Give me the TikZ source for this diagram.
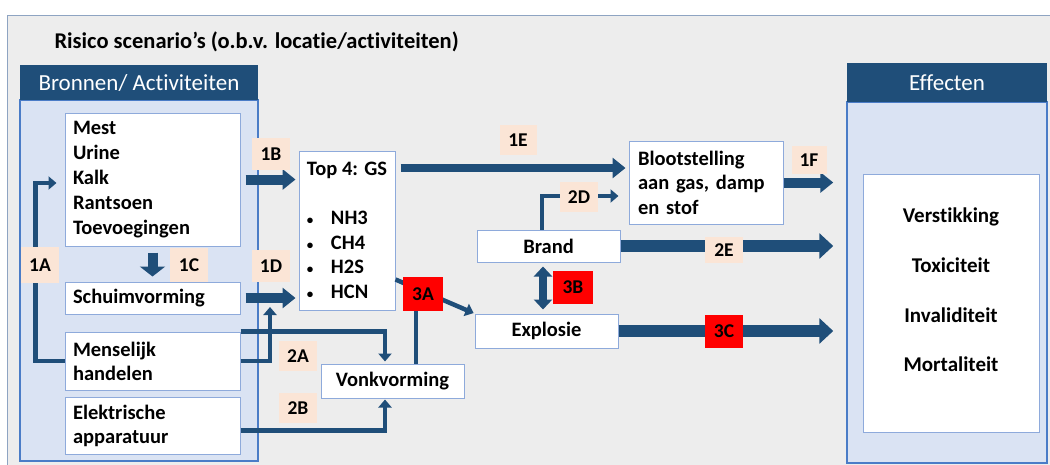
\documentclass[tikz,border=0pt]{standalone}
\usepackage{fontspec}
\setmainfont{Carlito}[Ligatures=NoCommon]
\usetikzlibrary{arrows.meta,calc}
\definecolor{bgc}{HTML}{EDEDED}
\definecolor{framec}{HTML}{8EA4C2}
\definecolor{hdr}{HTML}{1F4E79}
\definecolor{arrc}{HTML}{1F4E79}
\definecolor{panelf}{HTML}{DAE3F3}
\definecolor{panelb}{HTML}{4A7CC7}
\definecolor{boxc}{HTML}{8EAADB}
\definecolor{peach}{HTML}{FBE5D6}
\definecolor{redc}{HTML}{FF0000}
\newcommand{\gbul}{\makebox[24pt][l]{\fontsize{13}{13}\selectfont\textbullet}}
\begin{document}
\begin{tikzpicture}[x=1pt,y=-1pt,
  box/.style={draw=boxc, fill=white, line width=1pt, inner sep=0pt, font=\fontsize{20.5}{25}\selectfont\bfseries},
  lbox/.style={box, minimum width=175, text width=159, align=left},
  cbox/.style={box, minimum width=143, align=center},
  lab/.style={fill=peach, inner sep=0pt, minimum width=38, minimum height=32, font=\fontsize{19.5}{22}\selectfont\bfseries},
  rlab/.style={lab, fill=redc},
  panel/.style={draw=panelb, fill=panelf, line width=1.5pt, inner sep=0pt},
  header/.style={fill=hdr, inner sep=0pt, text=white, font=\fontsize{23}{27}\selectfont},
  bigarrow/.style={draw=arrc, line width=10pt, -{Triangle[length=13pt,width=20pt]}},
  widearrow/.style={draw=arrc, line width=12pt, -{Triangle[length=14pt,width=25pt]}},
  thinarrow/.style={draw=arrc, line width=4.5pt, -{Triangle[length=8pt,width=13pt]}},
  thinline/.style={draw=arrc, line width=4.5pt},
  dblarrow/.style={draw=arrc, line width=8pt, {Triangle[length=10pt,width=18pt]}-{Triangle[length=10pt,width=18pt]}},
  effect/.style={font=\fontsize{21}{24}\selectfont\bfseries}
]
\useasboundingbox (0,0) rectangle (1050,464);
\draw[draw=framec, fill=bgc, line width=1pt] (7,15) rectangle (1056,470);

\node[anchor=west, font=\fontsize{22.5}{26}\selectfont\bfseries] (title) at (51,42) {Risico scenario’s (o.b.v. locatie/activiteiten)};

% left panel
\node[panel, minimum width=238, minimum height=361] (lpanel) at (139,280.5) {};
\node[header, minimum width=238, minimum height=35] (lhead) at (139,82.5) {Bronnen/ Activiteiten};

% right panel
\node[panel, minimum width=200, minimum height=361] (rpanel) at (947,282.5) {};
\node[header, minimum width=200, minimum height=39] (rhead) at (947,82.5) {Effecten};
\node[box, minimum width=176, minimum height=258] (effbox) at (951,303) {};
\node[effect] (e1) at (951,217) {Verstikking};
\node[effect] (e2) at (951,265) {Toxiciteit};
\node[effect] (e3) at (951,315) {Invaliditeit};
\node[effect] (e4) at (951,364) {Mortaliteit};

% boxes
\node[lbox, minimum height=133] (mest) at (152.5,179.5) {Mest\\Urine\\Kalk\\Rantsoen\\Toevoegingen};
\node[lbox, minimum height=32] (schuim) at (152.5,298) {Schuimvorming};
\node[lbox, minimum height=58, font=\fontsize{20.5}{24}\selectfont\bfseries] (mensel) at (152.5,361) {Menselijk\\handelen};
\node[lbox, minimum height=57, font=\fontsize{20.5}{24}\selectfont\bfseries] (elek) at (152.5,425.5) {Elektrische\\apparatuur};
\node[box, minimum width=96, minimum height=159, align=left, font=\fontsize{20.5}{24.5}\selectfont\bfseries] (top4) at (347,230.5)
  {Top 4: GS\\\mbox{}\\\gbul NH3\\\gbul CH4\\\gbul H2S\\\gbul HCN};
\node[box, minimum width=154, minimum height=83, text width=136, align=left, font=\fontsize{20.5}{24.5}\selectfont\bfseries] (bloot) at (706,182.5) {Blootstelling\\aan gas, damp\\en stof};
\node[cbox, minimum height=34] (vonk) at (392.5,381) {Vonkvorming};
\node[cbox, minimum height=32] (brand) at (548.5,246) {Brand};
\node[cbox, minimum height=34] (explo) at (546.5,331) {Explosie};

% connectors
\draw[thinarrow, shorten >=8pt] (mensel.west) -- ++(-29,0) |- ([yshift=-3.5pt]mest.west);
\draw[bigarrow, line width=10pt, -{Triangle[length=10pt,width=25pt]}, shorten <=6pt, shorten >=5pt] (mest.south) -- (schuim.north);
\draw[bigarrow, shorten <=5pt, shorten >=3pt] (mest.east) -- (top4.west |- mest.east);
\draw[bigarrow, shorten <=5pt, shorten >=3pt] (schuim.east) -- (top4.west |- schuim.east);
\coordinate (j2a) at (270,307);
\draw[thinarrow] (mensel.east) -| (j2a);
\draw[thinarrow, shorten >=2pt] (mensel.north east) -| ([xshift=-7.5pt]vonk.north);
\draw[thinarrow, shorten >=1pt] ([yshift=-5pt]elek.east) -| ([xshift=-7.5pt]vonk.south);
\draw[thinarrow, shorten >=1pt] ([yshift=31pt]top4.south east) -- (explo.north west);
\draw[thinline] ([xshift=23.5pt]vonk.north) -- ++(0,-55);
\coordinate (e1s) at ([yshift=62.5pt]top4.east);
\draw[draw=arrc, line width=8pt, -{Triangle[length=13pt,width=20pt]}, shorten <=5pt, shorten >=3pt] (e1s) -- (bloot.west |- e1s);
\draw[thinarrow, shorten >=10pt] ([xshift=-6.5pt]brand.north) |- ([yshift=-13.5pt]bloot.west);
\draw[bigarrow, shorten >=13pt] (bloot.east) -- (rpanel.west |- bloot.east);
\draw[widearrow, shorten >=13pt] (brand.east) -- (rpanel.west |- brand.east);
\draw[widearrow, shorten >=13pt] (explo.east) -- (rpanel.west |- explo.east);
\coordinate (b3) at ([xshift=-5.5pt]brand.south);
\draw[dblarrow, shorten <=4pt, shorten >=4pt] (b3) -- (b3 |- explo.north);

% labels
\node[lab, minimum height=36] (l1a) at (40,265) {1A};
\node[lab] (l1b) at (271,154) {1B};
\node[lab, minimum height=34] (l1c) at (189,265) {1C};
\node[lab] (l1d) at (271,266) {1D};
\node[lab, minimum height=30] (l2a) at (298,356) {2A};
\node[lab, minimum height=30] (l2b) at (298,408) {2B};
\node[lab, minimum width=37, minimum height=30] (l1e) at (518,140) {1E};
\node[lab, minimum width=35, minimum height=28] (l1f) at (809,160) {1F};
\node[lab, minimum height=30] (l2d) at (579,197) {2D};
\node[lab, minimum height=26] (l2e) at (724,250) {2E};
\node[rlab, minimum width=40, minimum height=34] (l3a) at (423,294) {3A};
\node[rlab, minimum width=40, minimum height=33] (l3b) at (573,287) {3B};
\node[rlab, minimum height=33] (l3c) at (724,331) {3C};
\end{tikzpicture}
\end{document}
